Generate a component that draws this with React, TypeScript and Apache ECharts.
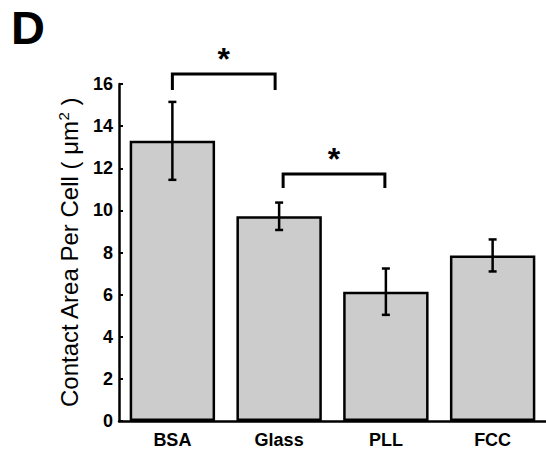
import React, { useEffect, useRef } from "react";
import * as echarts from "echarts";

const categories = ["BSA", "Glass", "PLL", "FCC"];
const means = [13.3, 9.72, 6.14, 7.86];
const errors = [1.85, 0.65, 1.1, 0.76];
const yTicks = [0, 2, 4, 6, 8, 10, 12, 14, 16];
// significance brackets: [fromIndex, toIndex, topValue, legBottomValue]
const brackets = [
  [0, 1, 16.48, 15.72],
  [1, 2, 11.73, 11.06],
];
const bracketLabel = "*";

// pixel nudges for bracket ends (style only)
const bracketNudge = [
  [0, -4],
  [4, -1],
];

const FONT = "'Liberation Sans', Arial, sans-serif";

export default function App() {
  const ref = useRef<HTMLDivElement>(null);
  useEffect(() => {
    if (!ref.current) return;
    const chart = echarts.init(ref.current, undefined, { renderer: "svg" });
    chart.setOption({
      animation: false,
      backgroundColor: "#ffffff",
      graphic: [
        {
          type: "text",
          left: 11,
          top: 4,
          style: {
            text: "D",
            font: `bold 47px ${FONT}`,
            fill: "#000",
          },
        },
      ],
      grid: { left: 119, right: 0, top: 84, bottom: 30, containLabel: false },
      xAxis: {
        type: "category",
        data: categories,
        axisLine: { show: true, lineStyle: { color: "#000", width: 2.5 } },
        axisTick: { show: false },
        axisLabel: {
          color: "#000",
          fontFamily: FONT,
          fontWeight: "bold",
          fontSize: 18,
          margin: 10,
        },
      },
      yAxis: {
        type: "value",
        min: yTicks[0],
        max: yTicks[yTicks.length - 1],
        interval: 2,
        splitLine: { show: false },
        axisLine: { show: true, lineStyle: { color: "#000", width: 2.5 } },
        axisTick: { show: true, inside: true, length: 4, lineStyle: { color: "#000", width: 2 } },
        axisLabel: {
          color: "#000",
          fontFamily: FONT,
          fontWeight: "bold",
          fontSize: 18,
          margin: 6,
        },
        name: "Contact Area Per Cell ( μm{sup|2} )",
        nameLocation: "middle",
        nameGap: 36,
        nameRotate: 90,
        nameTextStyle: {
          color: "#000",
          fontFamily: FONT,
          fontSize: 24,
          rich: {
            sup: {
              fontFamily: FONT,
              fontSize: 15,
              color: "#000",
              verticalAlign: "top",
              padding: [0, 0, 12, 0],
            },
          },
        },
      },
      series: [
        {
          type: "bar",
          data: means,
          barCategoryGap: "20%",
          itemStyle: { color: "#cccccc", borderColor: "#000", borderWidth: 2.5 },
          z: 2,
        },
        {
          type: "custom",
          data: categories.map((_, i) => [i, means[i] - errors[i], means[i] + errors[i]]),
          encode: { x: 0, y: [1, 2] },
          z: 5,
          renderItem: (params: any, api: any) => {
            const i = api.value(0);
            const lo = api.coord([i, api.value(1)]);
            const hi = api.coord([i, api.value(2)]);
            const cap = 4;
            const st = { stroke: "#000", lineWidth: 2.5 };
            return {
              type: "group",
              children: [
                { type: "line", shape: { x1: lo[0], y1: lo[1], x2: hi[0], y2: hi[1] }, style: st },
                { type: "line", shape: { x1: lo[0] - cap, y1: lo[1], x2: lo[0] + cap, y2: lo[1] }, style: st },
                { type: "line", shape: { x1: hi[0] - cap, y1: hi[1], x2: hi[0] + cap, y2: hi[1] }, style: st },
              ],
            };
          },
        },
        {
          type: "custom",
          data: brackets,
          encode: { x: [0, 1], y: [2, 3] },
          z: 6,
          clip: false,
          renderItem: (params: any, api: any) => {
            const k = params.dataIndex;
            const a = api.coord([api.value(0), api.value(2)]);
            const b = api.coord([api.value(1), api.value(2)]);
            const leg = api.coord([api.value(0), api.value(3)]);
            const x1 = a[0] + bracketNudge[k][0];
            const x2 = b[0] + bracketNudge[k][1];
            const yTop = a[1];
            const yLeg = leg[1];
            return {
              type: "group",
              children: [
                {
                  type: "polyline",
                  shape: { points: [[x1, yLeg], [x1, yTop], [x2, yTop], [x2, yLeg]] },
                  style: { stroke: "#000", lineWidth: 3, fill: "none" },
                },
                {
                  type: "text",
                  x: (x1 + x2) / 2,
                  y: yTop + 1,
                  style: {
                    text: bracketLabel,
                    font: `bold 32px ${FONT}`,
                    fill: "#000",
                    align: "center",
                    verticalAlign: "bottom",
                  },
                },
              ],
            };
          },
        },
      ],
    });
    return () => chart.dispose();
  }, []);
  return <div ref={ref} style={{ width: 546, height: 451, position: "fixed", left: 0, top: 0 }} />;
}
